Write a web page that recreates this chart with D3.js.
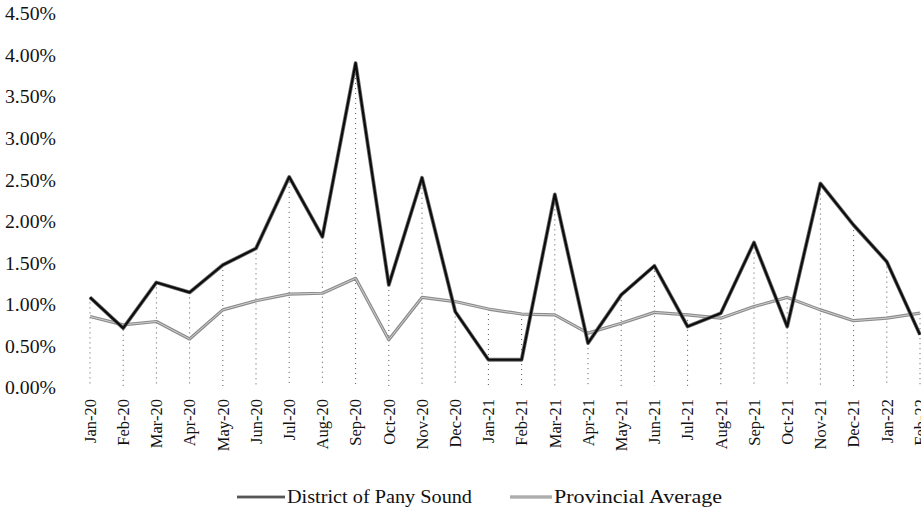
<!DOCTYPE html>
<html>
<head>
<meta charset="utf-8">
<script src="https://cdn.jsdelivr.net/npm/d3@7"></script>
<style>
  body { margin: 0; background: #fff; }
  text { font-family: "Liberation Serif", "DejaVu Serif", serif; fill: #111; }
</style>
</head>
<body>
<div id="chart"></div>
<script>
// Data
const months = ['Jan-20', 'Feb-20', 'Mar-20', 'Apr-20', 'May-20', 'Jun-20', 'Jul-20', 'Aug-20',
    'Sep-20', 'Oct-20', 'Nov-20', 'Dec-20', 'Jan-21', 'Feb-21', 'Mar-21', 'Apr-21', 'May-21',
    'Jun-21', 'Jul-21', 'Aug-21', 'Sep-21', 'Oct-21', 'Nov-21', 'Dec-21', 'Jan-22', 'Feb-22'];
const district = [1.09, 0.72, 1.27, 1.15, 1.48, 1.68, 2.54, 1.82, 3.91, 1.24, 2.53, 0.92,
    0.34, 0.34, 2.33, 0.54, 1.12, 1.47, 0.74, 0.90, 1.75, 0.74, 2.46, 1.96, 1.52, 0.64];
const provincial = [0.86, 0.76, 0.80, 0.59, 0.94, 1.05, 1.13, 1.14, 1.32, 0.58, 1.09, 1.04,
    0.95, 0.89, 0.88, 0.66, 0.78, 0.91, 0.88, 0.84, 0.98, 1.09, 0.94, 0.81, 0.84, 0.90];
const yTicks = [0, 0.5, 1, 1.5, 2, 2.5, 3, 3.5, 4, 4.5];
const seriesNames = ['District of Pany Sound', 'Provincial Average'];

const W = 921, H = 515;

const svg = d3.select('#chart')
    .append('svg')
    .attr('width', W)
    .attr('height', H);

// Scales
const x = d3.scalePoint()
    .domain(months)
    .range([90, 920]);

const y = d3.scaleLinear()
    .domain([0, 4.5])
    .range([388, 14]);

// Y labels (the scan is a little stretched sideways)
svg.append('g')
    .selectAll('text')
    .data(yTicks)
    .enter()
    .append('text')
    .attr('x', 56)
    .attr('y', d => y(d))
    .attr('dy', '0.35em')
    .attr('text-anchor', 'end')
    .attr('textLength', 51)
    .attr('lengthAdjust', 'spacingAndGlyphs')
    .style('font-size', '18px')
    .text(d => d.toFixed(2) + '%');

// Drop lines
svg.append('g')
    .selectAll('line')
    .data(months)
    .enter()
    .append('line')
    .attr('x1', d => x(d))
    .attr('x2', d => x(d))
    .attr('y1', (d, i) => y(Math.max(district[i], provincial[i])))
    .attr('y2', y(0) - 2)
    .attr('stroke', '#555')
    .attr('stroke-width', 1)
    .attr('stroke-dasharray', '1,4');

// X labels
svg.append('g')
    .selectAll('text')
    .data(months)
    .enter()
    .append('text')
    .attr('transform', d => `translate(${x(d)}, 399) rotate(-90)`)
    .attr('dy', '0.35em')
    .attr('text-anchor', 'end')
    .style('font-size', '16.5px')
    .text(d => d);

// Lines
const line = d3.line()
    .x((d, i) => x(months[i]))
    .y(d => y(d));

// Provincial (gray, hollow look)
svg.append('path')
    .datum(provincial)
    .attr('d', line)
    .attr('fill', 'none')
    .attr('stroke', '#8c8c8c')
    .attr('stroke-width', 3.2)
    .attr('stroke-linejoin', 'round');
svg.append('path')
    .datum(provincial)
    .attr('d', line)
    .attr('fill', 'none')
    .attr('stroke', '#cfcfcf')
    .attr('stroke-width', 1)
    .attr('stroke-linejoin', 'round');

// District (dark)
svg.append('path')
    .datum(district)
    .attr('d', line)
    .attr('fill', 'none')
    .attr('stroke', '#6f6f6f')
    .attr('stroke-width', 3.8)
    .attr('stroke-linejoin', 'round');
svg.append('path')
    .datum(district)
    .attr('d', line)
    .attr('fill', 'none')
    .attr('stroke', '#0d0d0d')
    .attr('stroke-width', 2.2)
    .attr('stroke-linejoin', 'round');

// Legend
const legend = svg.append('g');
const legendItems = [
    { name: seriesNames[0], x1: 237, x2: 285, len: 185, outer: '#7a7a7a', inner: '#333' },
    { name: seriesNames[1], x1: 510, x2: 552, len: 168, outer: '#8c8c8c', inner: '#cfcfcf' }
];
legendItems.forEach(d => {
    legend.append('line')
        .attr('x1', d.x1).attr('x2', d.x2)
        .attr('y1', 497).attr('y2', 497)
        .attr('stroke', d.outer).attr('stroke-width', 3);
    legend.append('line')
        .attr('x1', d.x1).attr('x2', d.x2)
        .attr('y1', 497).attr('y2', 497)
        .attr('stroke', d.inner).attr('stroke-width', 1);
    legend.append('text')
        .attr('x', d.x2 + 2)
        .attr('y', 497)
        .attr('dy', '0.35em')
        .attr('textLength', d.len)
        .attr('lengthAdjust', 'spacingAndGlyphs')
        .style('font-size', '18px')
        .text(d.name);
});
</script>
</body>
</html>
